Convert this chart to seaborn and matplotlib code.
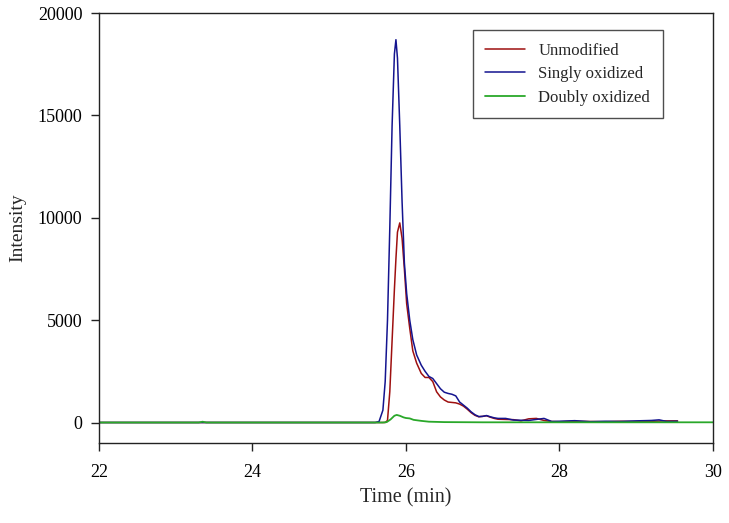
import matplotlib
matplotlib.use('Agg')
import matplotlib.pyplot as plt
import seaborn as sns
import pandas as pd

# Retention times (min) for the unmodified / singly oxidized traces
time = [22.0, 23.3, 23.35, 23.4, 25.0, 25.6, 25.65, 25.7, 25.73, 25.76, 25.79, 25.82, 25.85,
        25.87, 25.89, 25.92, 25.95, 25.98, 26.01, 26.05, 26.09, 26.14, 26.2, 26.25, 26.3,
        26.35, 26.4, 26.45, 26.5, 26.55, 26.6, 26.65, 26.7, 26.75, 26.8, 26.85, 26.9, 26.95,
        27.0, 27.05, 27.1, 27.15, 27.2, 27.3, 27.4, 27.5, 27.6, 27.7, 27.8, 27.9, 28.0,
        28.2, 28.4, 28.6, 28.8, 29.0, 29.2, 29.3, 29.4, 29.54]

unmodified = [0, 0, 0, 0, 0, 0, 0, 0, 0, 100, 1500, 4000, 6500,
              8000, 9300, 9750, 9000, 7500, 5800, 4600, 3500, 2900, 2400, 2200, 2200,
              2000, 1500, 1250, 1100, 1000, 980, 960, 900, 800, 650, 480, 350, 280,
              300, 330, 260, 200, 160, 150, 140, 80, 180, 200, 100, 50, 40,
              60, 50, 40, 60, 50, 60, 70, 80, 80]

singly = [0, 0, 0, 0, 0, 0, 50, 600, 2000, 5000, 9500, 14500, 18000,
          18700, 17800, 14500, 10800, 7800, 6300, 5000, 4050, 3300, 2800, 2500, 2250,
          2150, 1900, 1650, 1480, 1420, 1380, 1300, 1000, 850, 700, 520, 380, 290,
          300, 340, 280, 230, 200, 200, 120, 110, 100, 150, 200, 50, 60,
          90, 40, 60, 50, 80, 100, 130, 50, 60]

# Doubly oxidized trace covers the full window
time_doubly = [22.0, 23.3, 23.35, 23.4, 25.7, 25.75, 25.8, 25.85, 25.88, 25.92, 25.97,
               26.0, 26.05, 26.1, 26.2, 26.3, 26.5, 27.0, 28.0, 30.0]
doubly = [0, 0, 40, 0, 0, 20, 150, 330, 370, 330, 250,
          220, 200, 130, 80, 40, 20, 10, 10, 10]

df = pd.DataFrame({'Time': time, 'Unmodified': unmodified, 'Singly oxidized': singly})
df_d = pd.DataFrame({'Time': time_doubly, 'Doubly oxidized': doubly})

sns.set_style("ticks")
plt.rcParams['font.family'] = ['Liberation Serif', 'DejaVu Serif']

fig = plt.figure(figsize=(7.29, 5.23), dpi=100)
ax = fig.add_axes([0.1358, 0.153, 0.842, 0.822])

sns.lineplot(data=df, x='Time', y='Unmodified', color='#9E1010', lw=1.1, ax=ax, label='Unmodified')
sns.lineplot(data=df, x='Time', y='Singly oxidized', color='#14148F', lw=1.1, ax=ax, label='Singly oxidized')
sns.lineplot(data=df_d, x='Time', y='Doubly oxidized', color='#2AA82A', lw=1.3, ax=ax, label='Doubly oxidized')

ax.set_xlim(22, 30)
ax.set_ylim(-1000, 20000)
ax.set_xticks([22, 24, 26, 28, 30])
ax.set_yticks([0, 5000, 10000, 15000, 20000])
ax.tick_params(axis='both', labelsize=13, direction='out', length=6, width=1, colors='#222222',
               labelcolor='black', top=False, right=False)
ax.tick_params(axis='x', pad=9)
ax.tick_params(axis='y', pad=6)
ax.set_xlabel('Time (min)', fontsize=14.5, labelpad=5)
ax.set_ylabel('Intensity', fontsize=14, labelpad=8)
for s in ax.spines.values():
    s.set_visible(True)
    s.set_linewidth(1.0)
    s.set_color('#222222')

leg = ax.legend(loc='upper right', bbox_to_anchor=(0.932, 0.98), fontsize=12, frameon=True,
                fancybox=False, edgecolor='#222222', handlelength=2.4, borderpad=0.75,
                labelspacing=0.45, handletextpad=0.8)
leg.get_frame().set_linewidth(1.0)

fig.savefig('out.png', dpi=100)
